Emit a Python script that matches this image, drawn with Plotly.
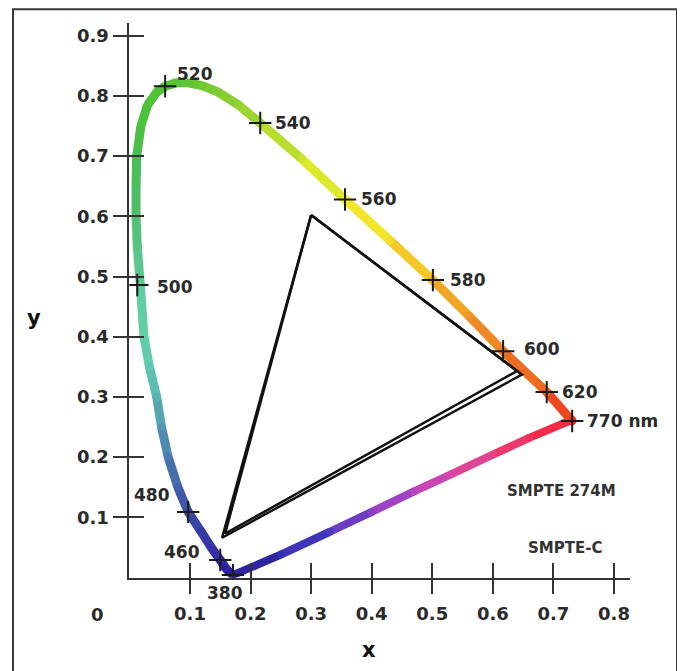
import plotly.graph_objects as go

# ---------------- data ----------------
# spectral locus (CIE x, y), from 380 nm round to 770 nm
locus_x = [0.171, 0.160, 0.150, 0.135, 0.118, 0.097, 0.080, 0.064, 0.053, 0.045,
           0.033, 0.024, 0.018, 0.013, 0.011, 0.011, 0.012, 0.019, 0.030, 0.045,
           0.059, 0.078, 0.095, 0.120, 0.145, 0.180, 0.216, 0.285, 0.356, 0.430,
           0.501, 0.560, 0.617, 0.689, 0.731]
locus_y = [0.004, 0.014, 0.029, 0.050, 0.077, 0.109, 0.150, 0.200, 0.250, 0.300,
           0.350, 0.400, 0.486, 0.550, 0.600, 0.650, 0.700, 0.750, 0.785, 0.806,
           0.816, 0.822, 0.822, 0.817, 0.807, 0.785, 0.755, 0.695, 0.628, 0.560,
           0.494, 0.435, 0.376, 0.308, 0.260]

# purple line, from 770 nm back to 380 nm
purple_x = [0.731, 0.660, 0.600, 0.530, 0.470, 0.400, 0.331, 0.250, 0.171]
purple_y = [0.262, 0.232, 0.204, 0.171, 0.143, 0.109, 0.076, 0.038, 0.004]

# wavelength marks
wl_names = ["380", "460", "480", "500", "520", "540", "560", "580", "600", "620", "770 nm"]
wl_x = [0.171, 0.150, 0.097, 0.013, 0.059, 0.216, 0.356, 0.501, 0.617, 0.689, 0.731]
wl_y = [0.004, 0.029, 0.109, 0.486, 0.816, 0.755, 0.628, 0.494, 0.376, 0.308, 0.260]

# colour-gamut triangles (G, R, B, G)
smpte274_x = [0.300, 0.648, 0.153, 0.300]
smpte274_y = [0.602, 0.337, 0.066, 0.602]
smptec_x = [0.300, 0.640, 0.158, 0.300]
smptec_y = [0.602, 0.343, 0.073, 0.602]

gamut_names = ["SMPTE 274M", "SMPTE-C"]
gamut_label_x = [0.714, 0.719]
gamut_label_y = [0.144, 0.049]

x_ticks = [0.1, 0.2, 0.3, 0.4, 0.5, 0.6, 0.7, 0.8]
x_tick_text = ["0.1", "0.2", "0.3", "0.4", "0.5", "0.6", "0.7", "0.8"]
y_ticks = [0.1, 0.2, 0.3, 0.4, 0.5, 0.6, 0.7, 0.8, 0.9]
y_tick_text = ["0.1", "0.2", "0.3", "0.4", "0.5", "0.6", "0.7", "0.8", "0.9"]

# ---------------- styles ----------------
locus_colors = ["#2b1b8f", "#2e22a0", "#3228a8", "#3432a8", "#383ca8", "#3c4aa8", "#4262ac",
                "#4a7cb0", "#5298b2", "#5ab4b2", "#60c8b0", "#62d2aa", "#60ca98", "#58c480",
                "#50c070", "#4cbf60", "#4abf50", "#4cc040", "#4ec23a", "#50c236", "#52c234",
                "#58c434", "#60c634", "#6ec832", "#80cc32", "#94d232", "#a8d830", "#cce42e",
                "#eef02a", "#f4dc28", "#f4b426", "#f09624", "#ec7a22", "#ec5e20", "#f0301e"]
purple_colors = ["#f52838", "#f03058", "#e84080", "#d848a8", "#b844c0", "#8840c8",
                 "#5038c0", "#3030b0", "#2b1b8f"]

FONT = "DejaVu Sans"
INK = "#2a2a2a"
PAGE_W, PAGE_H = 685, 671
OFF = 8                      # browser body margin
W, H = PAGE_W - OFF, PAGE_H - OFF
X0_PX, X_PX_PER_UNIT = 129.4, 605.7
Y0_PX, Y_PX_PER_UNIT = 577.5, 602.0
X_END_PX, Y_END_PX = 630.0, 23.0


def px(xp):
    return (xp - OFF) / W


def py(yp):
    return 1 - (yp - OFF) / H


def hex2rgb(h):
    h = h.lstrip("#")
    return tuple(int(h[i:i + 2], 16) for i in (0, 2, 4))


def mix(a, b):
    ra, rb = hex2rgb(a), hex2rgb(b)
    return "rgb(%d,%d,%d)" % tuple((p + q) // 2 for p, q in zip(ra, rb))


fig = go.Figure()


def gradient_line(xs, ys, cols, width):
    for i in range(len(xs) - 1):
        fig.add_trace(go.Scatter(
            x=[xs[i], xs[i + 1]], y=[ys[i], ys[i + 1]], mode="lines",
            line=dict(color=mix(cols[i], cols[i + 1]), width=width),
            showlegend=False, hoverinfo="skip"))
    fig.add_trace(go.Scatter(
        x=xs, y=ys, mode="markers",
        marker=dict(color=cols, size=width - 0.5, line=dict(width=0)),
        showlegend=False, hoverinfo="skip"))


gradient_line(purple_x, purple_y, purple_colors, 8)
gradient_line(locus_x, locus_y, locus_colors, 9)

for tx, ty in ((smpte274_x, smpte274_y), (smptec_x, smptec_y)):
    fig.add_trace(go.Scatter(x=tx, y=ty, mode="lines",
                             line=dict(color="#111111", width=2.5),
                             showlegend=False, hoverinfo="skip"))

fig.add_trace(go.Scatter(
    x=wl_x, y=wl_y, mode="markers",
    marker=dict(symbol="cross-thin", size=16, line=dict(color="#1a1a1a", width=2)),
    showlegend=False, hoverinfo="skip"))

# dummy trace for the overlaying (inside-tick) axes
fig.add_trace(go.Scatter(x=[None], y=[None], xaxis="x2", yaxis="y2",
                         showlegend=False, hoverinfo="skip"))

# wavelength labels: (xanchor, xshift, yshift)
wl_style = {
    "380": ("center", -8, -18),
    "460": ("right", -18, 8),
    "480": ("right", -16, 17),
    "500": ("left", 18, -2),
    "520": ("left", 10, 12),
    "540": ("left", 13, 0),
    "560": ("left", 14, 0),
    "580": ("left", 15, 0),
    "600": ("left", 19, 2),
    "620": ("left", 13, 0),
    "770 nm": ("left", 13, 0),
}
for name, x, y in zip(wl_names, wl_x, wl_y):
    xa, xs, ys = wl_style[name]
    fig.add_annotation(x=x, y=y, text="<b>%s</b>" % name, showarrow=False,
                       xanchor=xa, yanchor="middle", xshift=xs, yshift=ys,
                       font=dict(family=FONT, size=17, color=INK))

for name, x, y in zip(gamut_names, gamut_label_x, gamut_label_y):
    fig.add_annotation(x=x, y=y, text="<b>%s</b>" % name, showarrow=False,
                       xanchor="center", yanchor="middle",
                       font=dict(family=FONT, size=15, color="#333333"))

# corner "0" and axis titles
fig.add_annotation(xref="paper", yref="paper", x=px(97), y=py(614), text="<b>0</b>",
                   showarrow=False, xanchor="center", yanchor="middle",
                   font=dict(family=FONT, size=18, color=INK))
fig.add_annotation(xref="paper", yref="paper", x=px(34), y=py(318), text="<b>y</b>",
                   showarrow=False, xanchor="center", yanchor="middle",
                   font=dict(family=FONT, size=21, color="#111111"))
fig.add_annotation(xref="paper", yref="paper", x=px(369), y=py(650), text="<b>x</b>",
                   showarrow=False, xanchor="center", yanchor="middle",
                   font=dict(family=FONT, size=21, color="#111111"))

# frame
fig.add_shape(type="rect", xref="paper", yref="paper",
              x0=px(13), x1=px(677), y0=-0.05, y1=py(9.2),
              line=dict(color="#3a3a3a", width=2), layer="below")

x_dom = [px(X0_PX), px(X_END_PX)]
y_dom = [py(Y0_PX), py(Y_END_PX)]
x_rng = [0, (X_END_PX - X0_PX) / X_PX_PER_UNIT]
y_rng = [0, (Y0_PX - Y_END_PX) / Y_PX_PER_UNIT]

axis_common = dict(showgrid=False, zeroline=False, ticklen=15, tickwidth=1.6,
                   tickcolor="#333333", automargin=False,
                   tickfont=dict(family=FONT, size=18, color=INK, weight="bold"))

fig.update_layout(
    width=W, height=H, margin=dict(l=0, r=0, t=0, b=0),
    paper_bgcolor="white", plot_bgcolor="rgba(0,0,0,0)",
    xaxis=dict(domain=x_dom, range=x_rng, tickvals=x_ticks, ticktext=x_tick_text,
               ticks="outside", showline=True, linecolor="#333333", linewidth=1.8,
               ticklabelstandoff=4, **axis_common),
    yaxis=dict(domain=y_dom, range=y_rng, tickvals=y_ticks, ticktext=y_tick_text,
               ticks="outside", showline=True, linecolor="#333333", linewidth=1.8,
               ticklabelstandoff=0, **axis_common),
    xaxis2=dict(overlaying="x", anchor="y2", side="bottom", range=x_rng, tickvals=x_ticks,
                ticks="inside", showticklabels=False, showline=False, **axis_common),
    yaxis2=dict(overlaying="y", anchor="x2", side="left", range=y_rng, tickvals=y_ticks,
                ticks="inside", showticklabels=False, showline=False, **axis_common),
)

fig.write_html("out.html")
